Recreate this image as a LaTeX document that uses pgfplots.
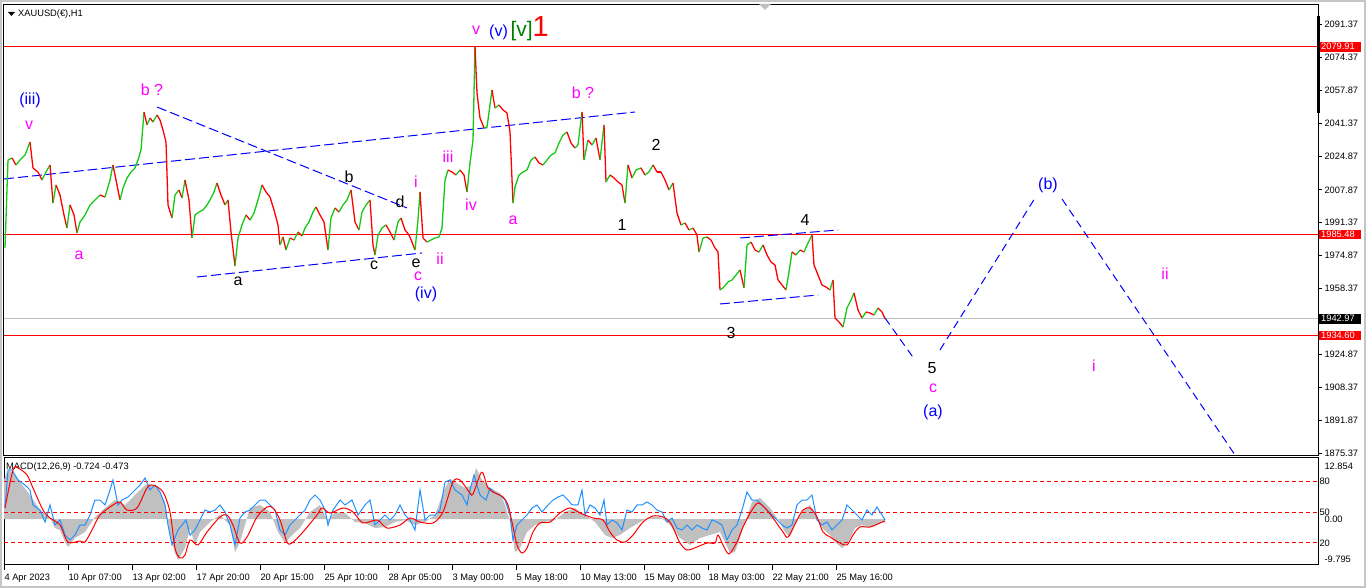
\documentclass[border=0pt]{standalone}
\usepackage{pgfplots}
\pgfplotsset{compat=1.18}
\usepackage{pgfplotstable}
\usepackage{fontspec}
\setmainfont{Liberation Sans}
\definecolor{cgreen}{RGB}{20,200,20}
\definecolor{cred}{RGB}{255,0,0}
\definecolor{cmag}{RGB}{255,0,255}
\definecolor{cblue}{RGB}{0,0,255}
\definecolor{dgreen}{RGB}{0,128,0}
\definecolor{rsiblue}{RGB}{30,144,255}
\definecolor{silv}{RGB}{192,192,192}

\pgfplotstableread{
x p m
5 1978.59 1
8 2022.89 1
12 2023.90 0
16 2020.38 1
20 2022.89 1
25 2025.41 1
30 2031.96 0
33 2018.87 0
38 2016.85 0
42 2012.82 1
46 2016.85 1
50 2020.38 0
53 2001.24 1
56 2010.31 0
60 2005.27 0
64 1995.20 0
67 1988.65 1
70 2000.24 0
74 1995.20 0
77 1986.14 1
80 1991.68 1
85 1995.20 1
90 2000.24 1
95 2002.75 1
100 2005.27 0
105 2004.26 1
110 2012.82 1
113 2020.38 0
117 2010.31 0
120 2002.75 1
123 2008.79 1
127 2013.83 1
131 2016.85 1
135 2018.87 1
138 2022.89 1
141 2027.93 1
144 2047.06 0
147 2040.52 1
150 2044.04 0
153 2042.03 1
157 2045.55 0
160 2043.03 0
163 2038.00 0
166 2031.96 0
168 2000.24 0
172 1993.69 1
175 2005.27 1
179 2007.79 0
182 2003.76 1
185 2012.82 0
189 2002.75 0
192 1983.62 1
195 1995.20 1
199 1996.71 1
203 1997.72 1
207 2000.24 1
210 2002.75 1
214 2006.78 1
217 2011.31 0
221 2005.27 0
225 2000.24 1
228 2002.75 0
231 1986.64 0
235 1969.52 1
238 1983.62 1
242 1990.17 1
246 1995.20 0
250 1992.68 1
254 1996.21 1
258 2002.75 1
262 2010.31 0
266 2006.78 0
270 2004.26 0
274 1997.72 0
278 1990.17 0
280 1980.10 1
283 1984.12 0
286 1977.58 1
290 1983.62 0
294 1982.61 1
298 1986.64 0
302 1984.63 1
305 1988.65 1
309 1991.68 1
313 1996.71 1
316 1999.23 0
320 1995.20 0
324 1991.68 0
328 1977.58 1
331 1993.69 1
335 1998.73 0
339 1996.71 1
343 2000.24 1
347 2002.75 1
351 2007.79 0
355 1991.68 0
359 1987.65 1
362 1996.71 1
366 2000.24 1
370 2002.75 0
373 1980.10 0
375 1975.06 1
378 1985.13 1
382 1988.65 1
386 1990.17 0
390 1986.64 0
394 1982.61 1
398 1991.68 1
401 1993.69 0
405 1987.65 0
409 1985.13 0
412 1981.60 0
415 1977.58 1
418 1992.68 1
420 2006.78 0
423 1983.62 0
427 1981.60 1
431 1982.61 1
435 1983.62 1
439 1984.12 1
442 1988.65 1
445 2012.82 1
448 2017.86 0
452 2016.85 0
456 2015.34 1
460 2017.86 0
464 2015.34 0
467 2006.78 1
470 2021.38 1
473 2032.96 1
475 2079.91 0
477 2056.63 0
480 2044.04 0
484 2039.01 1
487 2039.51 1
490 2050.59 1
492 2058.14 0
495 2049.07 1
499 2050.59 0
503 2048.07 0
507 2046.56 0
510 2036.99 0
513 2001.24 1
515 2009.30 1
519 2015.34 1
523 2016.85 1
527 2017.86 1
531 2022.89 1
535 2024.40 0
539 2021.38 0
543 2020.38 1
547 2022.89 1
551 2025.41 1
555 2026.42 1
559 2031.45 1
563 2035.48 1
567 2036.99 0
571 2031.45 0
575 2028.94 1
578 2030.45 1
582 2047.06 0
584 2022.89 1
588 2032.96 0
592 2030.45 1
596 2033.97 0
600 2022.89 1
604 2040.52 0
606 2011.82 1
610 2015.34 0
614 2013.83 0
618 2011.82 0
622 2010.31 0
625 2001.24 1
628 2020.38 0
632 2013.83 1
636 2017.86 1
641 2018.87 0
645 2015.34 1
649 2016.85 1
653 2020.38 0
657 2016.85 0
661 2016.85 0
665 2012.82 0
669 2007.79 1
673 2011.31 0
677 1996.21 0
681 1990.17 1
685 1991.17 0
689 1987.65 1
693 1988.65 0
697 1985.13 0
699 1976.57 1
703 1983.62 1
707 1984.12 0
711 1982.61 0
715 1978.59 0
718 1976.57 0
720 1957.44 1
724 1958.95 1
728 1961.47 1
732 1962.47 1
736 1964.99 1
740 1967.51 0
744 1958.44 1
747 1980.10 1
751 1981.60 0
755 1977.58 0
759 1976.57 1
763 1980.10 0
767 1975.06 0
771 1971.53 0
775 1970.02 0
778 1962.47 0
782 1959.96 0
786 1957.44 1
789 1966.50 1
792 1976.57 0
796 1975.06 1
800 1977.58 0
804 1976.57 1
808 1981.10 1
812 1985.13 0
814 1970.02 0
818 1964.99 0
822 1959.96 0
826 1958.95 0
830 1957.44 1
833 1962.47 0
835 1943.34 0
839 1941.33 0
843 1938.81 1
847 1948.38 1
851 1952.40 1
854 1955.93 0
858 1947.37 0
862 1943.34 1
866 1946.36 0
870 1945.86 0
874 1944.85 1
878 1948.38 0
882 1946.36 0
885 1942.97 0
}\price

\pgfplotstableread{
x m
4 0
4 9.56
7 11.52
10 12.0
15 10.78
20 9.07
30 5.88
40 2.21
50 0.25
55 -2.21
60 -2.70
65 -5.64
68 -6.86
75 -4.66
85 -3.19
95 0.49
105 2.70
115 4.66
125 3.43
135 5.88
145 8.33
150 8.58
158 7.60
165 4.17
170 -3.92
175 -8.33
178 -10.05
185 -7.11
190 -2.21
195 -6.37
200 -3.19
210 -0.74
220 0.98
230 -1.47
235 -8.09
240 -5.64
250 2.70
260 3.43
270 1.72
278 -3.19
285 -5.88
290 -4.41
300 -2.21
310 1.72
320 3.43
328 -0.74
335 1.72
345 1.47
355 -0.74
365 -0.98
375 -2.21
385 -1.96
395 -0.74
405 -0.25
415 -1.47
425 -0.74
435 0.98
445 7.60
450 9.80
460 8.33
465 7.60
472 8.33
476 12.50
482 9.56
490 7.60
500 6.37
505 3.43
510 -0.74
515 -8.09
520 -7.11
527 -3.19
535 -1.47
545 -0.74
555 -0.25
565 1.72
575 2.70
585 0.98
595 -0.74
605 -3.92
612 -4.66
620 -3.92
630 -2.21
640 -0.74
650 0.49
660 0.49
670 -1.47
680 -4.66
690 -6.37
700 -4.66
710 -3.92
720 -3.19
725 -5.64
730 -8.33
735 -8.09
740 -4.66
745 -0.74
752 4.17
760 5.15
770 2.70
780 -0.74
785 -3.19
790 -4.41
795 -1.47
802 1.72
810 3.43
815 1.47
822 -2.21
830 -3.92
835 -5.64
842 -7.11
848 -5.64
855 -2.21
862 -1.47
870 -1.96
880 -0.98
885 -0.724
885 0
}\hist

\pgfplotstableread{
x s
5 2.70
13 12.01
18 12.50
27 10.78
33 7.60
43 2.21
50 0.25
60 -1.47
68 -5.64
80 -5.39
85 -5.64
92 -2.70
100 0.98
113 3.43
120 4.17
127 2.21
137 2.70
147 7.60
153 8.33
163 6.62
170 1.72
175 -7.11
180 -9.56
185 -8.82
190 -5.15
198 -6.37
207 -3.19
220 0.49
227 0.98
233 -1.47
240 -5.88
247 -4.41
257 0.49
267 2.94
273 2.70
280 -0.25
287 -5.64
292 -5.88
303 -3.19
317 0.98
322 2.70
330 1.47
343 2.70
353 1.72
363 -0.98
377 -0.25
387 -2.21
400 -1.47
410 0.25
420 -0.74
433 -0.98
443 1.72
453 9.07
460 9.56
470 6.37
473 6.13
480 10.78
483 11.27
488 7.60
495 6.37
503 5.39
508 3.43
512 -0.74
517 -6.37
522 -8.33
527 -7.11
533 -3.19
540 -0.98
550 -0.74
560 1.47
570 2.70
580 1.47
593 0.25
603 -0.25
610 -3.19
617 -5.15
625 -5.64
633 -3.92
643 -0.74
653 0.74
663 0.49
670 -0.74
675 -3.19
680 -5.88
687 -7.60
697 -6.86
707 -5.88
715 -5.88
718 -3.92
723 -6.37
729 -8.58
737 -5.64
743 -1.96
752 2.21
758 3.92
765 2.70
773 0.25
783 -3.19
788 -4.41
797 -0.25
803 2.21
810 2.70
817 0.49
823 -3.19
830 -4.41
840 -5.88
847 -6.37
853 -3.92
860 -1.96
870 -1.96
880 -0.98
885 -0.473
}\signal

\pgfplotstableread{
x r
5 53.9
8 90.7
12 90.7
18 81.0
25 76.1
30 71.3
33 56.8
40 51.9
45 40.3
50 56.8
55 37.4
60 42.3
65 27.7
70 22.9
75 27.7
80 37.4
85 37.4
90 47.1
95 61.6
100 61.6
105 56.8
110 71.3
113 81.0
118 56.8
122 61.6
128 64.5
135 71.3
140 76.1
145 82.9
150 71.3
155 76.1
160 69.4
165 56.8
168 37.4
172 18.1
178 32.6
182 37.4
186 42.3
190 27.7
195 32.6
200 42.3
205 51.9
210 50.0
215 51.9
220 56.8
225 50.0
230 37.4
235 18.1
240 44.2
245 50.0
250 51.9
255 56.8
260 61.6
265 61.6
270 56.8
275 51.9
280 32.6
285 27.7
290 37.4
295 42.3
300 47.1
305 51.9
310 61.6
315 66.5
320 61.6
325 51.9
328 37.4
333 51.9
340 61.6
345 56.8
352 61.6
358 47.1
365 56.8
370 61.6
375 37.4
380 42.3
385 47.1
390 42.3
395 47.1
400 56.8
405 47.1
410 42.3
415 32.6
420 71.3
425 42.3
430 47.1
435 47.1
440 51.9
445 79.0
450 81.0
455 71.3
462 66.5
467 56.8
470 71.3
474 85.8
477 76.1
480 66.5
486 61.6
490 73.2
495 68.4
500 66.5
505 61.6
510 47.1
513 22.9
517 37.4
522 42.3
527 47.1
532 53.9
537 56.8
542 50.0
548 56.8
553 61.6
558 64.5
563 66.5
568 61.6
572 56.8
578 56.8
582 71.3
585 47.1
590 56.8
595 53.9
600 47.1
604 61.6
607 37.4
612 42.3
617 39.4
622 32.6
627 51.9
632 50.0
637 56.8
642 56.8
647 59.7
652 56.8
657 51.9
662 50.0
667 40.3
672 44.2
677 34.5
682 32.6
687 37.4
692 32.6
697 37.4
702 34.5
707 32.6
712 42.3
717 40.3
722 37.4
727 22.9
732 32.6
737 37.4
742 51.9
747 69.4
752 61.6
757 61.6
762 56.8
767 51.9
772 47.1
777 42.3
782 37.4
787 34.5
792 37.4
797 56.8
802 61.6
807 61.6
812 66.5
817 42.3
822 37.4
827 40.3
832 32.6
837 37.4
842 42.3
847 56.8
852 51.9
857 47.1
862 42.3
867 51.9
872 47.1
877 54.8
882 47.1
885 42.3
}\rsi

\tikzset{
  tl/.style={font=\fontsize{9.3}{10}\selectfont},
  wl/.style={font=\fontsize{16}{16}\selectfont, inner sep=0pt},
  bdash/.style={cblue, line width=1pt, dash pattern=on 10pt off 4pt},
}

\begin{document}
\begin{tikzpicture}
\path[use as bounding box] (0pt,0pt) rectangle (1366pt,588pt);
\fill[white] (0pt,0pt) rectangle (1366pt,588pt);
\draw[gray!45, line width=2pt] (1pt,1pt) rectangle (1365pt,587pt);

% ---------------- main price panel ----------------
\begin{axis}[
  at={(4pt,132pt)}, anchor=south west, scale only axis,
  width=1314pt, height=451pt,
  xmin=4, xmax=1318, ymin=1873.86, ymax=2100.94,
  axis line style={black, line width=1pt},
  xtick=\empty,
  ytick={1875.37,1891.87,1908.37,1924.87,1958.37,1974.87,1991.37,2007.87,2024.87,2041.37,2057.87,2074.37,2091.37},
  yticklabels={1875.37,1891.87,1908.37,1924.87,1958.37,1974.87,1991.37,2007.87,2024.87,2041.37,2057.87,2074.37,2091.37},
  ytick pos=right, yticklabel pos=right, tick align=outside,
  major tick length=4pt,
  ytick style={black, line width=0.8pt},
  yticklabel style={tl, anchor=west, xshift=-1pt},
  clip=false,
]
% horizontal levels
\addplot[silv, line width=1pt] coordinates {(4,1942.97) (1318,1942.97)};
\addplot[cred, line width=1pt] coordinates {(4,2079.91) (1318,2079.91)};
\addplot[cred, line width=1pt] coordinates {(4,1985.48) (1318,1985.48)};
\addplot[cred, line width=1pt] coordinates {(4,1934.60) (1318,1934.60)};
% trend lines
\addplot[bdash] coordinates {(4,2013.33) (635,2047.06)};
\addplot[bdash] coordinates {(157,2049.58) (407,1998.73)};
\addplot[bdash] coordinates {(197,1963.98) (422,1976.07)};
\addplot[bdash] coordinates {(740,1983.62) (838,1987.65)};
\addplot[bdash] coordinates {(720,1950.39) (818,1954.92)};
% projection
\addplot[bdash, dash pattern=on 8pt off 5pt] coordinates {(885,1943.34) (915,1922.19)};
\addplot[bdash, dash pattern=on 8pt off 5pt] coordinates {(940,1927.23) (1035,2003.76)};
\addplot[bdash, dash pattern=on 8pt off 5pt] coordinates {(1062,2003.26) (1235,1874.36)};
% price
\addplot[mesh, shader=flat corner, point meta=explicit, point meta min=0, point meta max=1,
  colormap={rg}{color=(cred) color=(cgreen)}, line width=1.3pt]
  table[x=x, y=p, meta=m] {\price};

% wave labels
\node[wl, cblue] at (axis cs:30,2053.10) {(iii)};
\node[wl, cmag] at (axis cs:29,2040.52) {v};
\node[wl, cmag] at (axis cs:79,1975.06) {a};
\node[wl, cmag] at (axis cs:152,2058.14) {b ?};
\node[wl] at (axis cs:238,1961.97) {a};
\node[wl] at (axis cs:349,2014.34) {b};
\node[wl] at (axis cs:374,1970.03) {c};
\node[wl] at (axis cs:400,2001.74) {d};
\node[wl] at (axis cs:416,1971.03) {e};
\node[wl, cmag] at (axis cs:418,1964.49) {c};
\node[wl, cblue] at (axis cs:426,1955.42) {(iv)};
\node[wl, cmag] at (axis cs:416,2011.82) {i};
\node[wl, cmag] at (axis cs:440,1973.05) {ii};
\node[wl, cmag] at (axis cs:448,2024.40) {iii};
\node[wl, cmag] at (axis cs:471,2000.24) {iv};
\node[wl, cmag] at (axis cs:476,2088.35) {v};
\node[inner sep=0pt, anchor=base west] at (axis cs:489,2085.3)
  {\fontsize{16}{16}\selectfont\color{cblue}(v)\,\fontsize{21}{21}\selectfont\color{dgreen}[v]\fontsize{29}{29}\selectfont\color{cred}1};
\node[wl, cmag] at (axis cs:513,1992.68) {a};
\node[wl, cmag] at (axis cs:583,2056.63) {b ?};
\node[wl] at (axis cs:656,2030.45) {2};
\node[wl] at (axis cs:622,1990.17) {1};
\node[wl] at (axis cs:731,1935.79) {3};
\node[wl] at (axis cs:805,1992.68) {4};
\node[wl] at (axis cs:932,1918.17) {5};
\node[wl, cmag] at (axis cs:933,1908.10) {c};
\node[wl, cblue] at (axis cs:933,1896.02) {(a)};
\node[wl, cblue] at (axis cs:1048,2010.31) {(b)};
\node[wl, cmag] at (axis cs:1165,1965.50) {ii};
\node[wl, cmag] at (axis cs:1094,1919.17) {i};

% price tags on the right scale
\node[tl, fill=cred, text=white, anchor=west, inner xsep=2pt, inner ysep=1.5pt, text width=38pt] at (axis cs:1319,2079.91) {2079.91};
\node[tl, fill=cred, text=white, anchor=west, inner xsep=2pt, inner ysep=1.5pt, text width=38pt] at (axis cs:1319,1985.48) {1985.48};
\node[tl, fill=cred, text=white, anchor=west, inner xsep=2pt, inner ysep=1.5pt, text width=38pt] at (axis cs:1319,1934.60) {1934.60};
\node[tl, fill=black, text=white, anchor=west, inner xsep=2pt, inner ysep=1.5pt, text width=38pt] at (axis cs:1319,1942.97) {1942.97};
\draw[black, line width=3pt] (axis cs:1318,2095.40) -- (axis cs:1318,2046.56);
\end{axis}

% title and marks
\fill[black] (8pt,576pt) -- (15pt,576pt) -- (11.5pt,572pt) -- cycle;
\node[tl, anchor=west, inner sep=0pt] at (18pt,574pt) {XAUUSD(€),H1};
\fill[gray!50] (759pt,584pt) -- (771pt,584pt) -- (765pt,578pt) -- cycle;

% ---------------- MACD panel ----------------
\begin{axis}[
  at={(4pt,23pt)}, anchor=south west, scale only axis,
  width=1314pt, height=107pt,
  xmin=4, xmax=1318, ymin=-11.27, ymax=14.95,
  axis line style={black, line width=1pt},
  xtick={4,68,132,196,260,324,388,452,516,580,644,708,772,836},
  xticklabels={4 Apr 2023,10 Apr 07:00,13 Apr 02:00,17 Apr 20:00,20 Apr 15:00,25 Apr 10:00,28 Apr 05:00,3 May 00:00,5 May 18:00,10 May 13:00,15 May 08:00,18 May 03:00,22 May 21:00,25 May 16:00},
  xtick pos=bottom, tick align=outside,
  major tick length=5pt,
  x tick style={black, line width=0.8pt},
  xticklabel style={tl, anchor=north west, xshift=-3pt, yshift=0pt},
  ytick={-9.795,0,12.854},
  yticklabels={-9.795,0.00,12.854},
  ytick pos=right, yticklabel pos=right,
  y tick style={draw=none},
  yticklabel style={tl, anchor=west, xshift=-2pt},
  clip=false,
]
\addplot[fill=silv, draw=none] table[x=x, y=m] {\hist};
\node[tl, anchor=west, inner sep=0pt] at (axis cs:6,12.8) {MACD(12,26,9) -0.724 -0.473};
\end{axis}

\begin{axis}[
  at={(4pt,23pt)}, anchor=south west, scale only axis,
  width=1314pt, height=107pt,
  xmin=4, xmax=1318, ymin=-1.3, ymax=102.3,
  axis line style={draw=none},
  xtick=\empty,
  ytick={20,50,80},
  yticklabels={20,50,80},
  ytick pos=right, yticklabel pos=right,
  y tick style={draw=none},
  yticklabel style={tl, anchor=west, xshift=-2pt},
  clip=false,
]
\addplot[cred, line width=1pt, dash pattern=on 4pt off 3pt] coordinates {(4,80) (1318,80)};
\addplot[cred, line width=1pt, dash pattern=on 4pt off 3pt] coordinates {(4,50) (1318,50)};
\addplot[cred, line width=1pt, dash pattern=on 4pt off 3pt] coordinates {(4,20) (1318,20)};
\addplot[rsiblue, line width=1pt] table[x=x, y=r] {\rsi};
\end{axis}

\begin{axis}[
  at={(4pt,23pt)}, anchor=south west, scale only axis,
  width=1314pt, height=107pt,
  xmin=4, xmax=1318, ymin=-11.27, ymax=14.95,
  axis line style={draw=none}, xtick=\empty, ytick=\empty,
  clip=false,
]
\addplot[cred, line width=1pt, smooth] table[x=x, y=s] {\signal};
\end{axis}
\end{tikzpicture}
\end{document}
